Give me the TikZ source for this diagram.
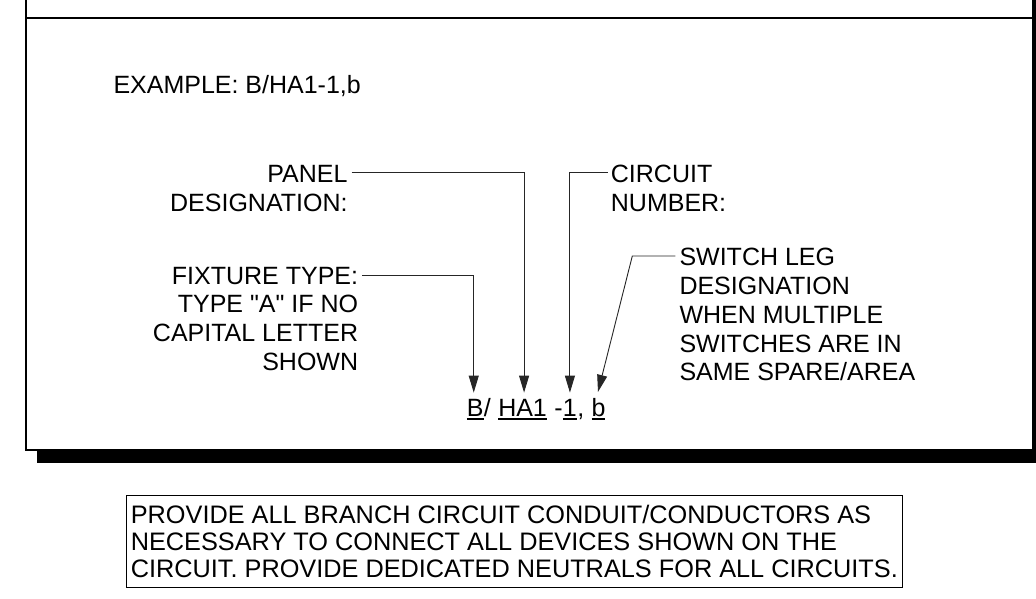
\documentclass[tikz,border=0pt]{standalone}
\usepackage{fontspec}
\setmainfont{Liberation Sans}[Ligatures=TeXOff]
\usetikzlibrary{arrows.meta, calc}
\newsavebox\undlbox
\newcommand\undl[1]{\sbox\undlbox{#1}\rlap{\rule[-4.3pt]{\wd\undlbox}{2pt}}\usebox\undlbox}

\begin{document}
\begin{tikzpicture}[x=1pt, y=-1pt, >={Triangle[length=17pt, width=10pt]},
  every node/.style={font=\fontsize{25}{28.8}\selectfont, inner sep=0pt},
  leader/.style={->, line width=0.9pt, draw=black!85, shorten >=6pt},
  code/.style={anchor=base west}]
  \clip (0,0) rectangle (1036,599);
  \fill (37,-5) rectangle (1046,463);
  \draw[line width=2pt, fill=white] (26,-5) rectangle (1032.5,450);
  \draw[line width=2pt] (26,18) -- (1032.5,18);
  \node[anchor=north west] (example) at (113.3,75) {EXAMPLE: B/HA1-1,b};
  \node[anchor=north east, align=right] (panelL) at (347.7,165) {PANEL\\DESIGNATION:};
  \node[anchor=north west, align=left] (circuitL) at (610.7,165) {CIRCUIT\\NUMBER:};
  \node[anchor=north west, align=left] (switchL) at (679.3,248) {SWITCH LEG\\DESIGNATION\\WHEN MULTIPLE\\SWITCHES ARE IN\\SAME SPARE/AREA};
  \node[anchor=north east, align=right] (fixtureL) at (358.3,266.7) {FIXTURE TYPE:\\TYPE "A" IF NO\\CAPITAL LETTER\\SHOWN};
  \node[code] (typB) at (466.7,416) {\undl{B}};
  \node[code] (slash) at (typB.base east) {/\hbox{\ }};
  \node[code] (panelHA) at (slash.base east) {\undl{HA1}};
  \node[code] (dash) at (panelHA.base east) {\hbox{\ }-};
  \node[code] (circN) at (dash.base east) {\undl{1}};
  \node[code] (comma) at (circN.base east) {,\hbox{\ }};
  \node[code] (switchb) at (comma.base east) {\undl{b}};
  \draw[leader] ($(fixtureL.north east)+(4,8.3)$) -| ([xshift=-1.5pt]typB.north);
  \draw[leader] ($(panelL.north east)+(4,7)$) -| ([xshift=1.5pt]panelHA.north);
  \draw[leader] ($(circuitL.north west)+(-3,7)$) -| (circN.north);
  \draw[leader] ($(switchL.north west)+(-4,8)$) -- ++(-43,0) -- ([xshift=-2pt]switchb.north);
  \node[draw, line width=1pt, anchor=north west, align=left, inner xsep=4.6pt, inner ysep=9.5pt, font=\fontsize{25.3}{27.2}\selectfont] (note) at (125.7,495) {PROVIDE ALL BRANCH CIRCUIT CONDUIT/CONDUCTORS AS\\NECESSARY TO CONNECT ALL DEVICES SHOWN ON THE\\CIRCUIT. PROVIDE DEDICATED NEUTRALS FOR ALL CIRCUITS.};
\end{tikzpicture}
\end{document}
